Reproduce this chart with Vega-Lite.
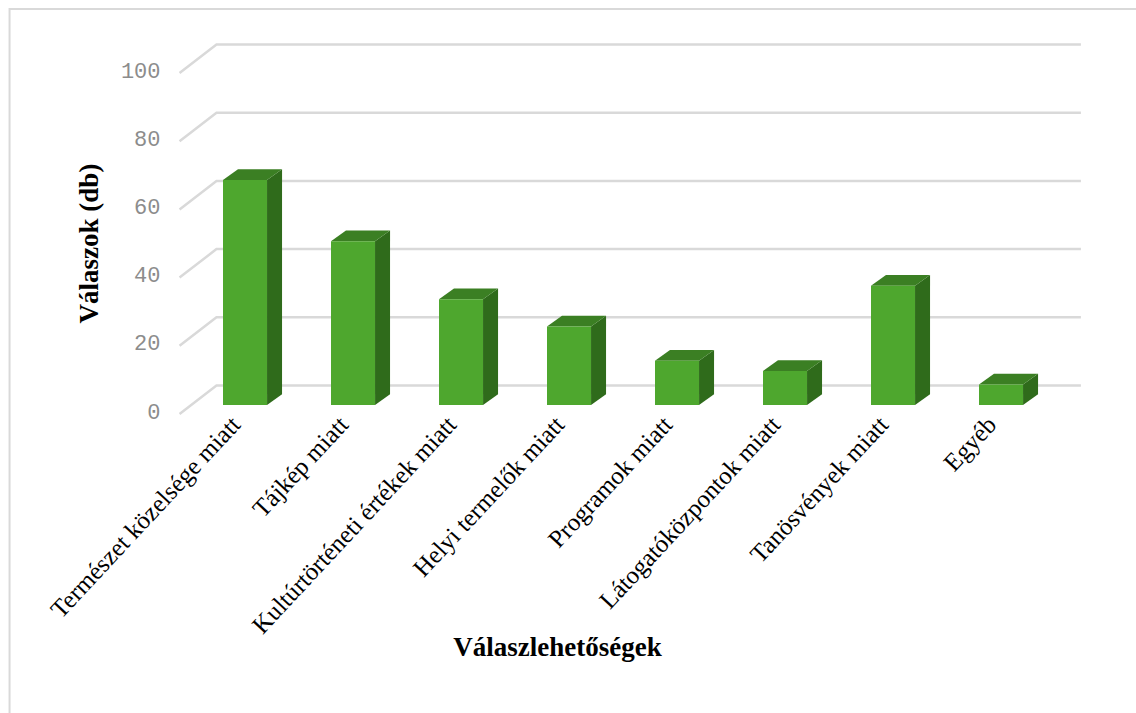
{
"$schema":"https://vega.github.io/schema/vega-lite/v6.json",
"width":864,"height":341,
"autosize":"none",
"padding":{"left":191,"right":81,"top":64,"bottom":308},
"background":"white",
"config":{"view":{"stroke":null}},
"data":{"name":"valaszok","values":[
{"kategoria":"Természet közelsége miatt","db":66},
{"kategoria":"Tájkép miatt","db":48},
{"kategoria":"Kultúrtörténeti értékek miatt","db":31},
{"kategoria":"Helyi termelők miatt","db":23},
{"kategoria":"Programok miatt","db":13},
{"kategoria":"Látogatóközpontok miatt","db":10},
{"kategoria":"Tanösvények miatt","db":35},
{"kategoria":"Egyéb","db":6}
]},
"resolve":{"scale":{"x":"independent"}},
"layer":[
{
"data":{"values":[{"fx":-1.68,"fy":-90.3},{"fx":-1.68,"fy":116.1},{"fx":8.76,"fy":116.1}]},
"mark":{"type":"line","color":"#d9d9d9","strokeWidth":2,"clip":false},
"encoding":{
"x":{"field":"fx","type":"quantitative","scale":{"domain":[0,8],"nice":false,"zero":false},"axis":null},
"y":{"field":"fy","type":"quantitative","scale":{"domain":[0,100],"nice":false},
"axis":{"title":"Válaszok (db)","titleFont":"Liberation Serif","titleFontWeight":"bold","titleFontSize":27,"titleColor":"#000000","titleX":-102,"titleY":179,"titleBaseline":"middle","titleAngle":-90,"titleAlign":"center",
"values":[0,20,40,60,80,100],"labelFont":"Liberation Mono","labelFontSize":22,"labelColor":"#8c8c8c","labelPadding":31,"labelOffset":6,"ticks":false,"domain":false,"grid":false}},
"order":{"field":"fy"}
}
},
{
"data":{"values":[{"ertek":0},{"ertek":20},{"ertek":40},{"ertek":60},{"ertek":80},{"ertek":100}]},
"transform":[
{"calculate":"[-0.106,0.236,8.24]","as":"gx"},
{"calculate":"[datum.ertek-2.64,datum.ertek+5.72,datum.ertek+5.72]","as":"gy"},
{"flatten":["gx","gy"]}
],
"mark":{"type":"line","color":"#d9d9d9","strokeWidth":2.5,"clip":false},
"encoding":{
"x":{"field":"gx","type":"quantitative","scale":{"domain":[0,8],"nice":false,"zero":false},"axis":null},
"y":{"field":"gy","type":"quantitative"},
"detail":{"field":"ertek"}
}
},
{
"transform":[
{"window":[{"op":"row_number","as":"n"}]},
{"calculate":"[datum.n-0.296,datum.n-0.157]","as":"sx"},
{"calculate":"[0,3.14]","as":"slo"},
{"calculate":"[datum.db,datum.db+3.14]","as":"shi"},
{"flatten":["sx","slo","shi"]}
],
"mark":{"type":"area","color":"#2f6b1b","clip":false},
"encoding":{
"x":{"field":"sx","type":"quantitative","scale":{"domain":[0,8],"nice":false,"zero":false},"axis":null},
"y":{"field":"slo","type":"quantitative","stack":null},
"y2":{"field":"shi"},
"detail":{"field":"kategoria"}
}
},
{
"transform":[
{"window":[{"op":"row_number","as":"n"}]},
{"calculate":"[datum.n-0.704,datum.n-0.565,datum.n-0.296,datum.n-0.157]","as":"tx"},
{"calculate":"[datum.db,datum.db,datum.db,datum.db+3.14]","as":"tlo"},
{"calculate":"[datum.db,datum.db+3.14,datum.db+3.14,datum.db+3.14]","as":"thi"},
{"flatten":["tx","tlo","thi"]}
],
"mark":{"type":"area","color":"#3b7f23","clip":false},
"encoding":{
"x":{"field":"tx","type":"quantitative","scale":{"domain":[0,8],"nice":false,"zero":false},"axis":null},
"y":{"field":"tlo","type":"quantitative","stack":null},
"y2":{"field":"thi"},
"detail":{"field":"kategoria"}
}
},
{
"mark":{"type":"bar","color":"#4ea72e"},
"encoding":{
"x":{"field":"kategoria","type":"nominal","sort":null,
"scale":{"paddingInner":0.5926,"paddingOuter":0.2963},
"axis":{"title":"Válaszlehetőségek","titleFont":"Liberation Serif","titleFontWeight":"bold","titleFontSize":27,"titleColor":"#000000","titleX":366,"titleY":242,"titleBaseline":"middle",
"labelFont":"Liberation Serif","labelFontSize":25,"labelColor":"#000000","labelAngle":-47,"labelAlign":"right","labelBaseline":"middle","labelPadding":15,"labelOffset":-9,"labelLimit":500,"ticks":false,"domain":false,"grid":false}},
"y":{"field":"db","type":"quantitative"}
}
}
]
}
